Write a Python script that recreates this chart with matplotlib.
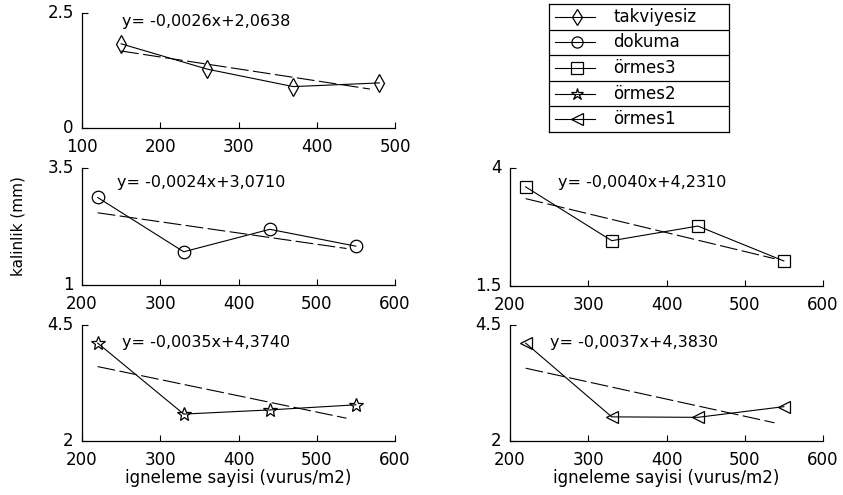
import numpy as np
import matplotlib
matplotlib.use("Agg")
from matplotlib import pyplot as plt
from matplotlib.lines import Line2D

# readings
names = ["takviyesiz", "dokuma", "örmes3", "örmes2", "örmes1"]
markers = ["d", "o", "s", "*", "<"]

x_takviyesiz = [150, 260, 370, 480]
y_takviyesiz = [1.83, 1.28, 0.90, 0.98]
x_others = [220, 330, 440, 550]
y_dokuma = [2.87, 1.71, 2.19, 1.83]
y_ormes3 = [3.60, 2.46, 2.77, 2.03]
y_ormes2 = [4.11, 2.58, 2.67, 2.78]
y_ormes1 = [4.11, 2.52, 2.51, 2.74]

# linear fits printed on the panels (slope, intercept)
fits = [(-0.0026, 2.0638), (-0.0024, 3.0710), (-0.0040, 4.2310),
        (-0.0035, 4.3740), (-0.0037, 4.3830)]
fit_labels = ["y= -0,0026x+2,0638", "y= -0,0024x+3,0710", "y= -0,0040x+4,2310",
              "y= -0,0035x+4,3740", "y= -0,0037x+4,3830"]

xlims = [(100, 500), (200, 600), (200, 600), (200, 600), (200, 600)]
ylims = [(0, 2.5), (1, 3.5), (1.5, 4), (2, 4.5), (2, 4.5)]
xticks = [[100, 200, 300, 400, 500]] + [[200, 300, 400, 500, 600]] * 4
ylabels_txt = ["0", "2.5"], ["1", "3.5"], ["1.5", "4"], ["2", "4.5"], ["2", "4.5"]

xs = [x_takviyesiz, x_others, x_others, x_others, x_others]
ys = [y_takviyesiz, y_dokuma, y_ormes3, y_ormes2, y_ormes1]

plt.rcParams["font.family"] = "DejaVu Sans"
W, H = 843, 495
fig = plt.figure(figsize=(W / 100, H / 100), dpi=100)


def px_axes(left, top, right, bottom):
    return fig.add_axes([left / W, 1 - bottom / H, (right - left) / W, (bottom - top) / H])


boxes = [(82, 13, 395, 128), (82, 168, 395, 285), (510, 168, 823, 286),
         (82, 325, 395, 441), (510, 325, 823, 441)]
text_pos = [(0.128, 0.93), (0.112, 0.88), (0.153, 0.88), (0.128, 0.85), (0.128, 0.85)]

fs = 12
for i, box in enumerate(boxes):
    ax = px_axes(*box)
    x = np.array(xs[i])
    ax.plot(x, ys[i], color="black", lw=0.8, marker=markers[i], mfc="none",
            mec="black", mew=0.9, ms=9 if markers[i] != "*" else 10)
    m, b = fits[i]
    xf = np.array([x[0], x[-1] - 12])
    ax.plot(xf, m * xf + b, color="black", lw=0.8, dashes=(16, 4))
    ax.set_xlim(*xlims[i])
    ax.set_ylim(*ylims[i])
    ax.set_xticks(xticks[i])
    ax.set_xticklabels([str(t) for t in xticks[i]])
    ax.set_yticks(list(ylims[i]))
    ax.set_yticklabels(ylabels_txt[i], va="center")
    ax.tick_params(direction="in", length=4, width=0.8, labelsize=fs)
    ax.tick_params(axis="x", pad=7)
    ax.tick_params(axis="y", pad=6)
    for s in ["top", "right"]:
        ax.spines[s].set_visible(False)
    for s in ["left", "bottom"]:
        ax.spines[s].set_linewidth(0.9)
    ax.text(*text_pos[i], fit_labels[i], transform=ax.transAxes, fontsize=11.5,
            va="center", ha="left")
    if i == 1:
        ax.set_ylabel("kalinlik (mm)", fontsize=11, labelpad=16)
    if i >= 3:
        ax.set_xlabel("igneleme sayisi (vurus/m2)", fontsize=12, labelpad=0)

# table-like legend
lax = px_axes(549, 4, 729, 132)
lax.set_xlim(0, 1)
lax.set_ylim(0, 1)
lax.set_xticks([])
lax.set_yticks([])
for s in lax.spines.values():
    s.set_linewidth(0.9)
n = len(names)
for k, (name, mk) in enumerate(zip(names, markers)):
    yc = 1 - (k + 0.5) / n
    lax.add_line(Line2D([0.033, 0.256], [yc, yc], color="black", lw=0.8))
    lax.plot([0.155], [yc], marker=mk, mfc="none", mec="black", mew=0.9,
             ms=8 if mk != "*" else 9, color="black")
    lax.text(0.356, yc, name, fontsize=12, va="center", ha="left")
    if k > 0:
        lax.axhline(1 - k / n, color="black", lw=0.9)

fig.savefig("out.png", dpi=100)
